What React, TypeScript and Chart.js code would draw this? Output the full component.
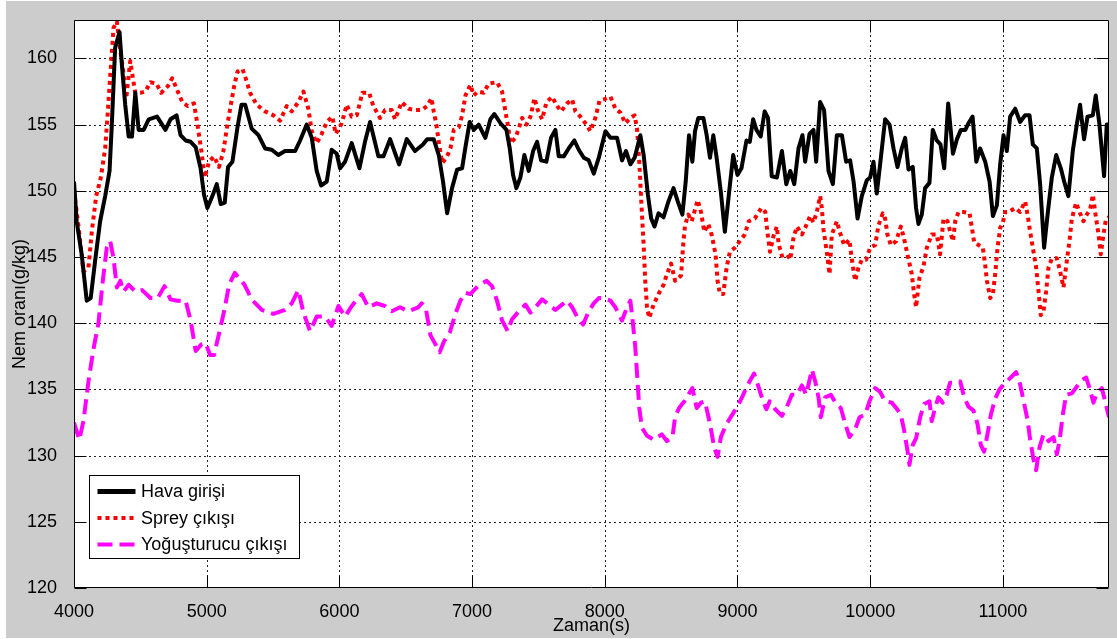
import React, { useEffect, useRef } from "react";
import { Chart, registerables } from "chart.js";

Chart.register(...registerables);

const FONT = "'Liberation Sans', Arial, Helvetica, sans-serif";

const xAxisTitle = "Zaman(s)";
const yAxisTitle = "Nem oranı(g/kg)";
const seriesLabels = ["Hava girişi", "Sprey çıkışı", "Yoğuşturucu çıkışı"];
const seriesColors = ["#000000", "#ff0000", "#ff00ff"];

const xTickValues = [4000, 5000, 6000, 7000, 8000, 9000, 10000, 11000];
const yTickValues = [120, 125, 130, 135, 140, 145, 150, 155, 160];
const xMin = 4000;
const xMax = 11800;
const yMin = 120;
const yMax = 162.9;

// Hava girişi (black, solid)
const havaTime = [
  4000, 4020, 4058, 4096, 4126, 4159, 4197, 4235, 4268, 4285, 4310, 4343, 4361, 4386, 4412, 4437, 4462, 4487, 4525, 4563,
  4626, 4689, 4727, 4773, 4803, 4841, 4879, 4917, 4954, 4980, 5005, 5043, 5076, 5106, 5136, 5161, 5194, 5232, 5262, 5290,
  5339, 5390, 5440, 5490, 5540, 5590, 5666, 5704, 5754, 5792, 5829, 5862, 5905, 5942, 5980, 6005, 6043, 6093, 6151, 6193,
  6231, 6294, 6332, 6382, 6450, 6508, 6570, 6630, 6661, 6711, 6749, 6781, 6812, 6849, 6887, 6925, 6950, 6982, 7013, 7050,
  7100, 7138, 7168, 7214, 7259, 7284, 7309, 7334, 7364, 7394, 7427, 7460, 7490, 7520, 7560, 7595, 7628, 7653, 7691, 7728,
  7771, 7804, 7842, 7879, 7917, 7955, 8005, 8043, 8093, 8130, 8160, 8193, 8225, 8243, 8268, 8293, 8325, 8350, 8375, 8405,
  8443, 8480, 8518, 8550, 8585, 8610, 8635, 8660, 8680, 8705, 8743, 8768, 8793, 8818, 8843, 8875, 8905, 8935, 8968, 9000,
  9030, 9068, 9093, 9118, 9143, 9175, 9205, 9230, 9258, 9297, 9335, 9368, 9398, 9428, 9460, 9490, 9510, 9543, 9573, 9593,
  9623, 9653, 9686, 9719, 9749, 9787, 9819, 9849, 9875, 9905, 9937, 9975, 10000, 10025, 10050, 10083, 10113, 10146, 10176, 10206,
  10238, 10264, 10289, 10321, 10346, 10364, 10389, 10414, 10447, 10472, 10502, 10530, 10558, 10588, 10624, 10654, 10684, 10717, 10741, 10772,
  10800, 10829, 10867, 10900, 10925, 10955, 10980, 11005, 11030, 11055, 11093, 11130, 11168, 11201, 11226, 11256, 11281, 11311, 11336, 11369,
  11402, 11437, 11462, 11494, 11527, 11557, 11582, 11612, 11638, 11678, 11700, 11728, 11763, 11783, 11800,
];
const havaValue = [
  150.7, 147.7, 145.2, 141.7, 141.9, 144.7, 147.7, 149.6, 151.5, 155, 160.8, 162, 159.5, 156.5, 154.1, 154.1, 157.4, 154.6, 154.6, 155.4,
  155.6, 154.6, 155.4, 155.7, 154.2, 153.8, 153.7, 153.3, 151.7, 149.7, 148.7, 149.6, 150.5, 149, 149.1, 151.8, 152.2, 154.8, 156.5, 156.5,
  154.7, 154.2, 153.2, 153.1, 152.7, 153, 153, 153.8, 155, 154, 151.5, 150.4, 150.7, 153.1, 152.8, 151.7, 152.2, 153.6, 151.7, 153.7,
  155.2, 152.6, 152.6, 153.9, 152, 153.9, 153, 153.5, 153.9, 153.9, 152.7, 150.7, 148.3, 150.2, 151.6, 151.7, 153.3, 155.2, 154.6, 155,
  154, 155.4, 155.8, 155.1, 154.6, 153.2, 151.2, 150.2, 151, 152.7, 151.5, 153, 153.7, 152.3, 152.2, 154, 154.6, 152.6, 152.6, 153.2,
  153.8, 153.1, 152.5, 152.3, 151.3, 152.5, 154.5, 154, 154, 152.3, 153, 152, 152.5, 153.2, 154.2, 152.7, 149.7, 147.9, 147.3, 148.3,
  148, 149.2, 150.2, 149.2, 148.2, 150.7, 154.2, 152.2, 154.5, 155.5, 155.5, 154.2, 152.5, 154.2, 152.5, 149.9, 146.9, 149.7, 152.7, 151.2,
  151.7, 153.8, 153.7, 155.4, 154.6, 154.1, 156, 155.5, 151.1, 151, 153, 150.5, 151.5, 150.5, 153.2, 154.2, 152.2, 154.3, 154.6, 152.2,
  156.7, 156.1, 151.5, 150.5, 154.2, 154.2, 152.2, 152.3, 150.7, 147.9, 149.6, 150.8, 151, 152.2, 149.8, 152.7, 155.4, 155, 153.2, 151.8,
  153.2, 154, 151.6, 151.8, 148.7, 147.5, 148.2, 150.2, 150.6, 154.6, 153.8, 153.5, 151.7, 156.6, 152.8, 153.9, 154.6, 154.6, 155.1, 155.6,
  152.2, 153.2, 152.2, 150.7, 148.1, 148.9, 152, 154.2, 153, 155.6, 156.2, 155.2, 155.7, 155.7, 153.5, 153.2, 150.5, 145.7, 148.1, 151,
  152.7, 151.7, 150.7, 149.6, 153, 155, 156.5, 153.9, 155.6, 155.7, 157.2, 155, 151.1, 155, 155,
];

// Sprey çıkışı (red, dotted)
const spreyTime = [
  4000, 4033, 4071, 4109, 4134, 4167, 4202, 4235, 4253, 4273, 4298, 4323, 4343, 4369, 4394, 4424, 4444, 4462, 4500, 4538,
  4576, 4621, 4657, 4707, 4740, 4778, 4816, 4858, 4904, 4929, 4960, 4985, 5018, 5055, 5093, 5126, 5156, 5182, 5207, 5232,
  5270, 5300, 5327, 5377, 5440, 5503, 5553, 5603, 5641, 5691, 5729, 5766, 5792, 5829, 5867, 5905, 5947, 5972, 6018, 6055,
  6093, 6131, 6173, 6224, 6256, 6306, 6344, 6394, 6420, 6470, 6520, 6570, 6620, 6661, 6694, 6711, 6731, 6749, 6774, 6807,
  6837, 6862, 6900, 6925, 6950, 6987, 7013, 7043, 7088, 7126, 7188, 7226, 7251, 7269, 7289, 7327, 7352, 7377, 7410, 7440,
  7470, 7495, 7528, 7561, 7603, 7641, 7671, 7716, 7754, 7779, 7816, 7854, 7892, 7929, 7960, 7993, 8043, 8080, 8118, 8155,
  8193, 8225, 8243, 8260, 8275, 8293, 8305, 8318, 8335, 8368, 8405, 8443, 8468, 8500, 8530, 8575, 8593, 8605, 8630, 8655,
  8675, 8700, 8725, 8750, 8780, 8805, 8835, 8850, 8868, 8893, 8918, 8943, 8980, 9018, 9055, 9085, 9130, 9180, 9210, 9225,
  9245, 9272, 9297, 9310, 9335, 9373, 9398, 9423, 9448, 9486, 9510, 9548, 9573, 9598, 9623, 9636, 9648, 9673, 9694, 9711,
  9749, 9774, 9804, 9844, 9862, 9887, 9912, 9937, 9970, 10000, 10038, 10063, 10095, 10113, 10130, 10156, 10196, 10231, 10251, 10281,
  10314, 10331, 10346, 10371, 10402, 10427, 10464, 10502, 10527, 10553, 10583, 10603, 10624, 10641, 10666, 10704, 10749, 10767, 10784, 10817,
  10849, 10867, 10880, 10905, 10925, 10942, 10960, 10980, 11000, 11018, 11043, 11093, 11130, 11168, 11186, 11206, 11226, 11251, 11269, 11286,
  11306, 11326, 11344, 11369, 11407, 11432, 11457, 11482, 11502, 11520, 11552, 11582, 11607, 11632, 11658, 11678, 11703, 11721, 11738, 11758,
  11778, 11800,
];
const spreyValue = [
  150, 147.4, 143.9, 144.2, 146.9, 149.6, 151, 153.2, 155.7, 158.7, 162.3, 162.8, 161, 159.2, 157, 159.8, 158.5, 157.4, 157.4, 157.5,
  158.2, 158.1, 157.4, 157.9, 158.5, 157.6, 156.7, 156.4, 156.6, 155.1, 153, 151, 152.2, 152.6, 151.8, 153, 155, 156.5, 157.9, 159,
  159.2, 158.3, 157.4, 156.5, 156, 155.7, 155.3, 156.4, 156, 156.7, 157.5, 156.2, 154.5, 153.6, 154.3, 155.2, 155.6, 154.3, 155.1, 156.5,
  155.6, 155.7, 157.4, 157.4, 156.4, 155.5, 156.1, 156.1, 155.4, 156.7, 156.2, 156.1, 156.1, 156.4, 157, 156, 155, 153.7, 152.1, 152.5,
  153.2, 154.6, 154.8, 155.7, 157.2, 158, 157.2, 157.5, 157.4, 158.1, 158.2, 157.5, 156, 155, 153.6, 154, 154.7, 155.5, 155, 155.6,
  157, 156.1, 155.4, 156.7, 157.1, 156.4, 156, 156.6, 156.9, 156, 155.6, 155.1, 154.5, 155.5, 156.8, 156.9, 157.1, 156.2, 155.9, 155.1,
  155.5, 155.7, 154.7, 152.2, 149.2, 145.9, 143.2, 141.2, 140.4, 141.4, 142.2, 142.9, 143.7, 144.5, 143.2, 143.6, 146.2, 147.4, 148.2, 147.7,
  148.4, 149.3, 148.4, 146.9, 147.5, 146.7, 145.2, 143.2, 142.2, 142.2, 144.2, 145.4, 145.7, 146.2, 146.7, 147.7, 147.9, 148.7, 148.4, 146.9,
  145.4, 146.6, 147.3, 146, 145.1, 145.2, 144.8, 146.5, 147.3, 146.7, 147.2, 148.1, 147.6, 148.4, 149.6, 148.7, 147.1, 145.4, 143.7, 146.7,
  147.7, 146.8, 145.9, 146.3, 144.8, 143.2, 144.2, 144.8, 144.8, 145.7, 145.9, 147.4, 148.3, 147.9, 146.7, 145.9, 146.2, 147.3, 146.6, 145.2,
  143.7, 142.2, 141.2, 143.4, 144.3, 145.7, 146.7, 146.7, 145.2, 147.9, 147.7, 146.9, 146.2, 147.7, 148.4, 148.4, 148.3, 147.2, 146.1, 145.9,
  145.7, 144.4, 143.2, 141.9, 142.2, 143.7, 145.7, 147.2, 147.6, 148.4, 148.4, 148.7, 148.4, 149.2, 148.2, 146.9, 145.7, 144.2, 142.4, 140.6,
  140.9, 142.4, 144.2, 144.9, 144.9, 143.9, 142.7, 144.7, 146.2, 147.9, 149.1, 148.3, 147.7, 148.2, 148.6, 149.7, 147.9, 146.7, 145.2, 146.7,
  147.9, 148,
];

// Yoğuşturucu çıkışı (magenta, dashed)
const yogusTime = [
  4000, 4040, 4071, 4109, 4146, 4184, 4217, 4247, 4273, 4298, 4323, 4349, 4374, 4412, 4462, 4513, 4576, 4631, 4682, 4727,
  4778, 4841, 4879, 4917, 4960, 4992, 5025, 5055, 5093, 5131, 5169, 5212, 5244, 5285, 5339, 5415, 5503, 5590, 5641, 5691,
  5729, 5779, 5829, 5892, 5942, 5993, 6043, 6093, 6168, 6218, 6281, 6344, 6394, 6457, 6520, 6595, 6620, 6650, 6686, 6724,
  6756, 6787, 6832, 6874, 6912, 6950, 6987, 7043, 7108, 7151, 7188, 7226, 7269, 7301, 7344, 7402, 7440, 7477, 7528, 7578,
  7628, 7678, 7716, 7754, 7791, 7837, 7879, 7917, 7955, 7990, 8043, 8080, 8130, 8168, 8193, 8210, 8230, 8243, 8260, 8280,
  8318, 8368, 8430, 8468, 8510, 8530, 8560, 8600, 8630, 8660, 8693, 8725, 8755, 8793, 8825, 8850, 8875, 8918, 8955, 8993,
  9030, 9075, 9125, 9155, 9193, 9218, 9243, 9285, 9335, 9373, 9410, 9448, 9486, 9518, 9561, 9586, 9611, 9628, 9661, 9704,
  9744, 9779, 9812, 9844, 9887, 9920, 9962, 9995, 10038, 10075, 10113, 10163, 10196, 10231, 10256, 10281, 10296, 10321, 10346, 10377,
  10407, 10447, 10464, 10489, 10514, 10547, 10577, 10602, 10629, 10679, 10709, 10741, 10779, 10809, 10834, 10859, 10884, 10910, 10942, 10975,
  11018, 11060, 11100, 11130, 11161, 11186, 11206, 11231, 11251, 11276, 11306, 11344, 11382, 11407, 11427, 11452, 11477, 11520, 11557, 11595,
  11628, 11653, 11683, 11708, 11746, 11771, 11800,
];
const yogusValue = [
  132.5, 131.2, 132.6, 135.6, 138, 140, 143.2, 145.7, 146.2, 144.9, 142.7, 143.2, 142.4, 142.9, 142.4, 142.5, 141.9, 141.9, 142.8, 141.8,
  141.7, 141.7, 140.2, 137.9, 138.4, 138.5, 137.6, 137.6, 139.2, 140.9, 142.9, 143.8, 143.4, 142.9, 141.8, 141, 140.7, 141, 141.5, 142.5,
  140.8, 139.4, 140.5, 140.5, 139.8, 141.3, 140.5, 141.3, 142.2, 141.2, 141.5, 141.3, 140.9, 141.2, 140.9, 141.2, 141.5, 141.2, 139.1, 138.4,
  137.8, 138.6, 139.3, 140.7, 141.7, 142.3, 142.2, 142.8, 143.2, 142.8, 141.7, 140.2, 139.4, 140.3, 140.8, 141.4, 140.8, 141.2, 141.8, 141.4,
  141, 141.4, 141.7, 141.2, 140.5, 139.9, 140.9, 141.5, 141.9, 141.9, 141.7, 141.2, 140.2, 141.2, 141.7, 140.2, 138.2, 136.2, 133.6, 132.1,
  131.5, 131.2, 131.6, 131.1, 131.4, 132.9, 133.6, 134.1, 134.6, 135.1, 133.6, 134, 134.1, 132.4, 130.6, 129.9, 131.4, 132.4, 133, 133.6,
  134.3, 135.3, 136.2, 135.3, 134.1, 133.5, 134.1, 133.5, 133, 133.7, 134.6, 134.6, 135.3, 134.6, 136.5, 135.6, 134.4, 132.9, 134.4, 134.6,
  133.9, 133.6, 132.4, 131.4, 132, 132.9, 133.1, 134.1, 135.1, 134.8, 134.1, 134, 133.6, 133.1, 131.9, 130.4, 129.3, 130.8, 131.3, 132.9,
  133.9, 134.1, 132.6, 133.6, 134.4, 134, 134.6, 135.5, 135.5, 135.6, 134.4, 133.7, 133.4, 132.4, 130.8, 130.3, 131.6, 133.1, 134.3, 135,
  135.5, 135.9, 136.3, 135.4, 133.9, 132.7, 131.2, 129.7, 128.9, 130.6, 131.6, 131.1, 131.4, 130.1, 131.1, 133.1, 134.6, 134.7, 135.2, 135.7,
  135.9, 135.1, 134, 134.7, 135.1, 134.1, 132.9,
];

const seriesTimes = [havaTime, spreyTime, yogusTime];
const seriesValues = [havaValue, spreyValue, yogusValue];
const seriesDashes: number[][] = [[], [4, 4], [15, 7]];
const seriesWidths = [4, 4, 4];

const toPoints = (t: number[], v: number[]) => t.map((x, i) => ({ x, y: v[i] }));

const matlabPlugin = {
  id: "matlabLook",
  beforeDraw(chart: any) {
    const { ctx, width, height, chartArea: a } = chart;
    ctx.save();
    ctx.fillStyle = "#ffffff";
    ctx.fillRect(0, 0, width, height);
    ctx.fillStyle = "#cccccc";
    ctx.fillRect(6, 1, width - 6, height - 2);
    ctx.fillStyle = "#ffffff";
    ctx.fillRect(a.left, a.top, a.right - a.left, a.bottom - a.top);
    ctx.restore();
  },
  beforeDatasetsDraw(chart: any) {
    const { ctx, chartArea: a, scales } = chart;
    const xs = scales.x;
    const ys = scales.y;
    ctx.save();
    ctx.strokeStyle = "#222222";
    ctx.lineWidth = 1;
    ctx.setLineDash([2, 3]);
    for (const v of xTickValues) {
      const px = Math.round(xs.getPixelForValue(v)) + 0.5;
      if (px <= a.left + 1 || px >= a.right - 1) continue;
      ctx.beginPath();
      ctx.moveTo(px, a.top);
      ctx.lineTo(px, a.bottom);
      ctx.stroke();
    }
    for (const v of yTickValues) {
      const py = Math.round(ys.getPixelForValue(v)) + 0.5;
      if (py <= a.top + 1 || py >= a.bottom - 1) continue;
      ctx.beginPath();
      ctx.moveTo(a.left, py);
      ctx.lineTo(a.right, py);
      ctx.stroke();
    }
    ctx.restore();
  },
  afterDatasetsDraw(chart: any) {
    const { ctx, chartArea: a, scales, data } = chart;
    const xs = scales.x;
    const ys = scales.y;
    const tl = 12;
    ctx.save();
    ctx.setLineDash([]);
    ctx.strokeStyle = "#000000";
    ctx.lineWidth = 1;
    const L = Math.round(a.left) + 0.5;
    const R = Math.round(a.right) - 0.5;
    const T = Math.round(a.top) + 0.5;
    const B = Math.round(a.bottom) - 0.5;
    ctx.beginPath();
    ctx.rect(L, T, R - L, B - T);
    ctx.stroke();
    ctx.beginPath();
    for (const v of xTickValues) {
      const px = Math.round(xs.getPixelForValue(v)) + 0.5;
      ctx.moveTo(px, B);
      ctx.lineTo(px, B - tl);
      ctx.moveTo(px, T);
      ctx.lineTo(px, T + tl);
    }
    for (const v of yTickValues) {
      const py = Math.round(ys.getPixelForValue(v)) + 0.5;
      ctx.moveTo(L, py);
      ctx.lineTo(L + tl, py);
      ctx.moveTo(R, py);
      ctx.lineTo(R - tl, py);
    }
    ctx.stroke();

    // legend box (inside axes, lower-left)
    const lx = Math.round(a.left + 15) + 0.5;
    const ly = Math.round(a.bottom - 113) + 0.5;
    const lw = 210;
    const lh = 83;
    ctx.fillStyle = "#ffffff";
    ctx.fillRect(lx, ly, lw, lh);
    ctx.strokeStyle = "#000000";
    ctx.lineWidth = 1;
    ctx.strokeRect(lx, ly, lw, lh);
    const rows = [16, 42.5, 69];
    ctx.font = `18px ${FONT}`;
    ctx.textBaseline = "middle";
    ctx.textAlign = "left";
    data.datasets.forEach((ds: any, i: number) => {
      const yy = ly + rows[i];
      ctx.save();
      ctx.strokeStyle = ds.borderColor;
      ctx.lineWidth = i === 0 ? 5 : ds.borderWidth;
      ctx.setLineDash(ds.borderDash || []);
      ctx.lineCap = "butt";
      ctx.beginPath();
      ctx.moveTo(lx + 8, yy);
      ctx.lineTo(lx + 46, yy);
      ctx.stroke();
      ctx.restore();
      ctx.fillStyle = "#000000";
      ctx.fillText(ds.label, lx + 51.5, yy + 1);
    });
    ctx.restore();
  },
};

export default function App() {
  const canvasRef = useRef<HTMLCanvasElement | null>(null);

  useEffect(() => {
    const canvas = canvasRef.current;
    if (!canvas) return;
    const chart = new Chart(canvas, {
      type: "line",
      data: {
        datasets: seriesLabels.map((label, i) => ({
          label,
          data: toPoints(seriesTimes[i], seriesValues[i]),
          borderColor: seriesColors[i],
          backgroundColor: seriesColors[i],
          borderWidth: seriesWidths[i],
          borderDash: seriesDashes[i],
          borderCapStyle: "butt",
          borderJoinStyle: "round",
          pointRadius: 0,
          pointHoverRadius: 0,
          tension: 0,
          fill: false,
        })),
      },
      options: {
        animation: false,
        responsive: false,
        devicePixelRatio: 1,
        events: [],
        layout: { padding: { left: 0, top: 20, right: 8, bottom: 0 } },
        plugins: {
          legend: { display: false },
          tooltip: { enabled: false },
          title: { display: false },
        },
        scales: {
          x: {
            type: "linear",
            min: xMin,
            max: xMax,
            grid: { display: false },
            border: { display: false },
            afterFit: (s: any) => {
              s.height = 51;
            },
            afterBuildTicks: (s: any) => {
              s.ticks = xTickValues.map((value) => ({ value }));
            },
            ticks: {
              includeBounds: false,
              autoSkip: false,
              maxRotation: 0,
              padding: 5,
              color: "#000000",
              font: { family: FONT, size: 18 },
              callback: (v: any) => String(v),
            },
            title: {
              display: true,
              text: xAxisTitle,
              color: "#000000",
              font: { family: FONT, size: 18 },
              padding: { top: 0, bottom: 2 },
            },
          },
          y: {
            type: "linear",
            min: yMin,
            max: yMax,
            grid: { display: false },
            border: { display: false },
            afterFit: (s: any) => {
              s.width = 74;
            },
            afterBuildTicks: (s: any) => {
              s.ticks = yTickValues.map((value) => ({ value }));
            },
            ticks: {
              includeBounds: false,
              autoSkip: false,
              padding: 9,
              color: "#000000",
              font: { family: FONT, size: 18 },
              callback: (v: any) => String(v),
            },
            title: {
              display: true,
              text: yAxisTitle,
              color: "#000000",
              font: { family: FONT, size: 18 },
              padding: { top: 9, bottom: 0 },
            },
          },
        },
      },
      plugins: [matlabPlugin],
    } as any);
    return () => chart.destroy();
  }, []);

  return (
    <div style={{ position: "fixed", left: 0, top: 0, width: 1117, height: 639 }}>
      <canvas ref={canvasRef} width={1117} height={639} style={{ display: "block", width: 1117, height: 639 }} />
    </div>
  );
}
